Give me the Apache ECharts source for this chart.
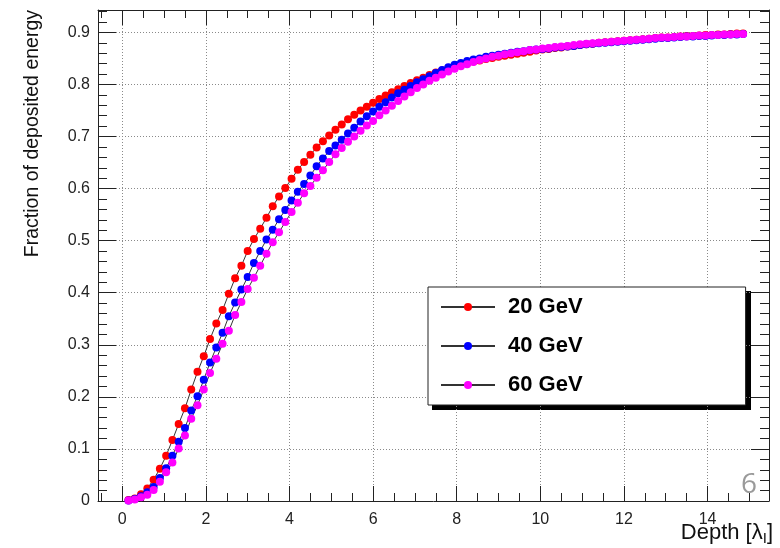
<!DOCTYPE html>
<html>
<head>
<meta charset="utf-8">
<script src="https://cdn.jsdelivr.net/npm/echarts@6/dist/echarts.min.js"></script>
<style>
  html, body { margin: 0; padding: 0; background: #fff; }
</style>
</head>
<body>
<div id="deposit_chart" style="width:780px;height:548px;"></div>
<script>
  // depth in interaction lengths
  var depth = [
    0.15, 0.3, 0.45, 0.6, 0.75, 0.9, 1.05, 1.2, 1.35, 1.5, 1.65, 1.8, 1.95, 2.1, 2.25, 2.4, 2.55, 2.7, 2.85, 3.0,
    3.15, 3.3, 3.45, 3.6, 3.75, 3.9, 4.05, 4.2, 4.35, 4.5, 4.65, 4.8, 4.95, 5.1, 5.25, 5.4, 5.55, 5.7, 5.85, 6.0,
    6.15, 6.3, 6.45, 6.6, 6.75, 6.9, 7.05, 7.2, 7.35, 7.5, 7.65, 7.8, 7.95, 8.1, 8.25, 8.4, 8.55, 8.7, 8.85, 9.0,
    9.15, 9.3, 9.45, 9.6, 9.75, 9.9, 10.05, 10.2, 10.35, 10.5, 10.65, 10.8, 10.95, 11.1, 11.25, 11.4, 11.55, 11.7, 11.85, 12.0,
    12.15, 12.3, 12.45, 12.6, 12.75, 12.9, 13.05, 13.2, 13.35, 13.5, 13.65, 13.8, 13.95, 14.1, 14.25, 14.4, 14.55, 14.7, 14.85
  ]
  var frac20 = [
    0.002, 0.005, 0.013, 0.024, 0.041, 0.062, 0.087, 0.117, 0.148, 0.178, 0.214, 0.248, 0.278, 0.311, 0.341, 0.367, 0.398, 0.428, 0.452, 0.480,
    0.503, 0.523, 0.544, 0.566, 0.585, 0.601, 0.619, 0.636, 0.651, 0.665, 0.679, 0.691, 0.702, 0.713, 0.723, 0.733, 0.742, 0.750, 0.757, 0.765,
    0.772, 0.779, 0.785, 0.791, 0.797, 0.803, 0.808, 0.813, 0.818, 0.823, 0.827, 0.831, 0.835, 0.838, 0.841, 0.844, 0.846, 0.849, 0.851, 0.853,
    0.855, 0.857, 0.859, 0.861, 0.863, 0.865, 0.867, 0.868, 0.870, 0.871, 0.873, 0.874, 0.876, 0.877, 0.878, 0.880, 0.881, 0.882, 0.883, 0.884,
    0.885, 0.886, 0.887, 0.888, 0.889, 0.890, 0.890, 0.891, 0.892, 0.893, 0.893, 0.894, 0.895, 0.895, 0.896, 0.896, 0.897, 0.898, 0.898
  ]
  var frac40 = [
    0.001, 0.004, 0.009, 0.017, 0.027, 0.044, 0.063, 0.087, 0.114, 0.140, 0.174, 0.201, 0.233, 0.266, 0.295, 0.323, 0.355, 0.381, 0.406, 0.430,
    0.457, 0.480, 0.502, 0.521, 0.541, 0.559, 0.577, 0.594, 0.609, 0.625, 0.643, 0.658, 0.672, 0.683, 0.694, 0.706, 0.717, 0.729, 0.739, 0.748,
    0.757, 0.766, 0.775, 0.783, 0.790, 0.797, 0.804, 0.810, 0.816, 0.822, 0.828, 0.833, 0.838, 0.841, 0.845, 0.848, 0.850, 0.853, 0.855, 0.857,
    0.859, 0.861, 0.863, 0.864, 0.866, 0.867, 0.868, 0.869, 0.871, 0.872, 0.873, 0.874, 0.876, 0.877, 0.878, 0.879, 0.880, 0.881, 0.882, 0.883,
    0.884, 0.885, 0.886, 0.887, 0.888, 0.889, 0.889, 0.890, 0.891, 0.892, 0.892, 0.893, 0.893, 0.894, 0.895, 0.895, 0.896, 0.896, 0.897
  ]
  var frac60 = [
    0.001, 0.003, 0.007, 0.012, 0.021, 0.037, 0.055, 0.074, 0.101, 0.126, 0.158, 0.184, 0.214, 0.246, 0.273, 0.302, 0.327, 0.357, 0.382, 0.407,
    0.429, 0.452, 0.475, 0.497, 0.516, 0.536, 0.555, 0.573, 0.591, 0.605, 0.621, 0.635, 0.651, 0.666, 0.678, 0.690, 0.700, 0.711, 0.721, 0.730,
    0.741, 0.750, 0.759, 0.768, 0.777, 0.785, 0.793, 0.800, 0.807, 0.813, 0.819, 0.825, 0.830, 0.835, 0.839, 0.843, 0.847, 0.850, 0.853, 0.855,
    0.858, 0.860, 0.862, 0.864, 0.866, 0.867, 0.869, 0.870, 0.872, 0.873, 0.874, 0.876, 0.877, 0.878, 0.879, 0.880, 0.881, 0.882, 0.883, 0.884,
    0.885, 0.886, 0.887, 0.888, 0.889, 0.890, 0.890, 0.891, 0.892, 0.892, 0.893, 0.894, 0.894, 0.895, 0.895, 0.896, 0.896, 0.897, 0.897
  ]
  var seriesNames = ['20 GeV', '40 GeV', '60 GeV']
  var seriesColors = ['#ff0000', '#0000ff', '#ff00ff']
  var xMajorTicks = [0, 2, 4, 6, 8, 10, 12, 14]
  var xMinorTicks = [-0.5, 0.5, 1, 1.5, 2.5, 3, 3.5, 4.5, 5, 5.5, 6.5, 7, 7.5, 8.5, 9, 9.5,
    10.5, 11, 11.5, 12.5, 13, 13.5, 14.5, 15]

  var chart = echarts.init(document.getElementById('deposit_chart'))
  var axisColor = '#222'
  var font = 'Liberation Sans'
  var xMin = -0.58, xMax = 15.47
  var yMin = 0, yMax = 0.943

  function xFrame(pos, ticks, len, withLabel) {
    return {
      type: 'value', position: pos, min: xMin, max: xMax,
      axisLine: { show: withLabel !== null, onZero: false, lineStyle: { color: axisColor, width: 1 } },
      axisTick: { show: true, inside: true, length: len, customValues: ticks, lineStyle: { color: axisColor } },
      axisLabel: withLabel ? { show: true, customValues: ticks, margin: 11, fontSize: 16, color: '#222', fontFamily: font } : { show: false },
      splitLine: withLabel ? { show: true, lineStyle: { color: '#8a8a8a', type: [1, 2] } } : { show: false }
    }
  }
  function yFrame(pos, interval, len, withLabel) {
    return {
      type: 'value', position: pos, min: yMin, max: yMax, interval: interval,
      axisLine: { show: withLabel !== null, onZero: false, lineStyle: { color: axisColor, width: 1 } },
      axisTick: { show: true, inside: true, length: len, lineStyle: { color: axisColor } },
      axisLabel: withLabel ? { show: true, showMaxLabel: false, margin: 8, fontSize: 16, color: '#222', fontFamily: font } : { show: false },
      splitLine: withLabel ? { show: true, lineStyle: { color: '#8a8a8a', type: [1, 2] } } : { show: false }
    }
  }

  var series = []
  var fracs = [frac20, frac40, frac60]
  fracs.map(function (vals, k) {
    series.push({
      name: seriesNames[k],
      type: 'line',
      xAxisIndex: 0,
      yAxisIndex: 0,
      data: depth.map(function (x, i) { return [x, vals[i]] }),
      symbol: 'circle',
      symbolSize: 8,
      itemStyle: { color: seriesColors[k] },
      lineStyle: { color: '#333', width: 1 },
      emphasis: { disabled: true }
    })
  })

  chart.setOption({
    animation: false,
    backgroundColor: '#fff',
    grid: { left: 98, right: 11, top: 10, bottom: 47 },
    xAxis: [
      xFrame('bottom', xMajorTicks, 15, true),
      xFrame('bottom', xMinorTicks, 8, null),
      xFrame('top', xMajorTicks, 15, false),
      xFrame('top', xMinorTicks, 8, null)
    ],
    yAxis: [
      yFrame('left', 0.1, 18, true),
      yFrame('left', 0.02, 9, null),
      yFrame('right', 0.1, 18, false),
      yFrame('right', 0.02, 9, null)
    ],
    legend: {
      data: seriesNames,
      orient: 'vertical',
      left: 428,
      top: 287,
      itemWidth: 54,
      itemHeight: 10,
      itemGap: 13,
      padding: [7, 163, 7, 12],
      backgroundColor: '#fff',
      borderColor: '#222',
      borderWidth: 1,
      borderRadius: 0,
      selectedMode: false,
      textStyle: { fontSize: 22, fontWeight: 'bold', color: '#000', fontFamily: font, lineHeight: 26, padding: [0, 0, 0, 8] }
    },
    graphic: [
      // legend drop shadow
      {
        type: 'rect', z: 0,
        shape: { x: 432, y: 291, width: 319, height: 119 },
        style: { fill: '#000' }
      },
      {
        type: 'text', x: 33, y: 10, rotation: Math.PI / 2,
        style: { text: 'Fraction of deposited energy', fontSize: 19.5, fontFamily: font, fill: '#111', align: 'right', verticalAlign: 'middle' }
      },
      {
        type: 'text', x: 773, y: 546,
        style: {
          text: 'Depth [λ{s|I}]', fontSize: 22, fontFamily: font, fill: '#111', align: 'right', verticalAlign: 'bottom',
          lineHeight: 26,
          rich: { s: { fontSize: 15, fontFamily: font, fill: '#111', verticalAlign: 'bottom', lineHeight: 15 } }
        }
      },
      {
        type: 'text', x: 749, y: 485,
        style: { text: '6', fontSize: 28, fontFamily: 'Open Sans', fill: '#9a9a9a', align: 'center', verticalAlign: 'middle' }
      }
    ],
    series: series
  })
</script>
</body>
</html>
